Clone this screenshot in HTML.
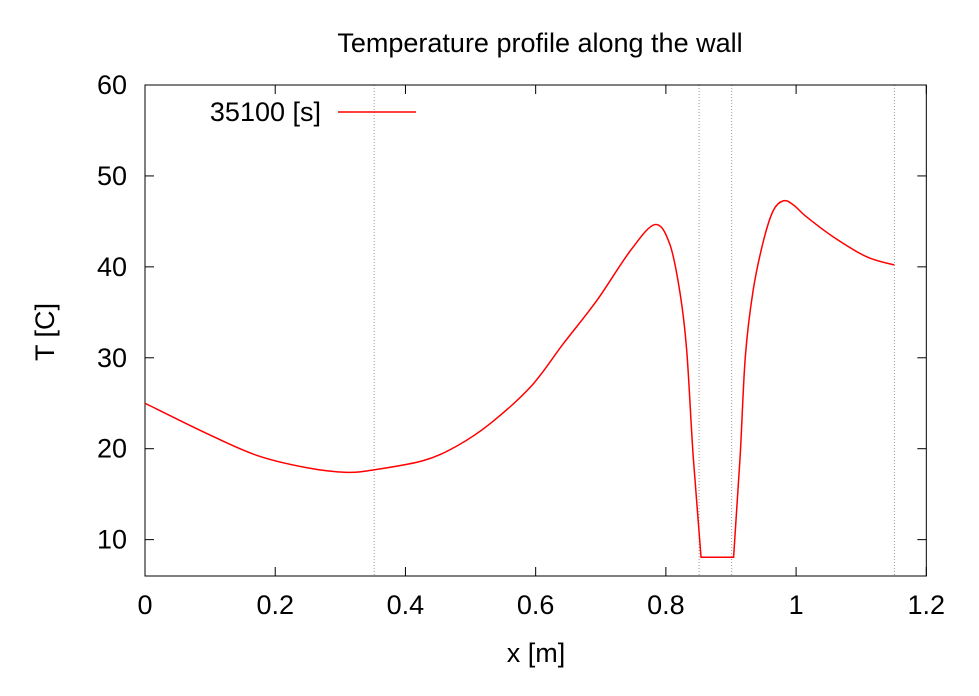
<!DOCTYPE html>
<html><head><meta charset="utf-8"><style>
body{margin:0;background:#fff}
svg{display:block;font-family:"Liberation Sans",sans-serif}
</style></head><body>
<svg id="chart" width="979" height="696">
<text x="540" y="52" font-size="27" text-anchor="middle">Temperature profile along the wall</text>
<text x="536" y="662" font-size="27" text-anchor="middle">x [m]</text>
<text transform="translate(54,332) rotate(-90)" font-size="27" text-anchor="middle">T [C]</text>
<g id="grid"></g><g id="axes"></g><g id="series"></g>
<text x="321" y="121" font-size="27" text-anchor="end">35100 [s]</text>
<line x1="338" y1="112" x2="416" y2="112" stroke="#f00" stroke-width="1.5"/>
</svg>
<script>
const xTicks=[0,0.2,0.4,0.6,0.8,1,1.2];
const xTickLabels=["0","0.2","0.4","0.6","0.8","1","1.2"];
const yTicks=[10,20,30,40,50,60];
const yTickLabels=["10","20","30","40","50","60"];
const boundaries=[0.352,0.851,0.901,1.151];
const xs=[0,0.0955,0.172,0.249,0.31,0.354,0.428,0.479,0.53,0.5929,0.6426,0.694,0.7457,0.7833,0.806,0.8218,0.832,0.842,0.854,0.904,0.914,0.922,0.934,0.95,0.965,0.9806,0.996,1.016,1.057,1.1085,1.151];
const temps=[25,21.65,19.26,17.9,17.4,17.7,18.7,20.3,22.75,26.85,31.56,36.3,41.8,44.65,42.5,37.1,30.8,19.1,8.06,8.06,19.1,30.1,37.4,42.9,46.2,47.27,46.8,45.5,43.3,41.1,40.2];
const X0=145,XS=651.1,YT=85,YB=576,YMIN=6,YMAX=60;
const sx=v=>X0+v*XS, sy=v=>YB-(v-YMIN)/(YMAX-YMIN)*(YB-YT);
const NS="http://www.w3.org/2000/svg";
function mk(t,a,p){const e=document.createElementNS(NS,t);for(const k in a)e.setAttribute(k,a[k]);p.appendChild(e);return e;}
const g=document.getElementById('grid'),ax=document.getElementById('axes'),se=document.getElementById('series');
boundaries.forEach(b=>{const l=mk('line',{x1:sx(b),x2:sx(b),y1:YT,y2:YB,stroke:'#999','stroke-width':1,'stroke-dasharray':'1,2'},g);

});
const fr=mk('rect',{x:X0,y:YT,width:sx(1.2)-X0,height:YB-YT,fill:'none',stroke:'#000','stroke-width':1},ax);


xTicks.forEach((v,i)=>{const x=sx(v);
mk('line',{x1:x,x2:x,y1:YB,y2:YB-9,stroke:'#000'},ax);mk('line',{x1:x,x2:x,y1:YT,y2:YT+9,stroke:'#000'},ax);
const t=mk('text',{x:x,y:614,'font-size':27,'text-anchor':'middle'},ax);t.textContent=xTickLabels[i];

});
yTicks.forEach((v,i)=>{const y=sy(v);
mk('line',{x1:X0,x2:X0+9,y1:y,y2:y,stroke:'#000'},ax);mk('line',{x1:sx(1.2),x2:sx(1.2)-9,y1:y,y2:y,stroke:'#000'},ax);
const t=mk('text',{x:127,y:y+9,'font-size':27,'text-anchor':'end'},ax);t.textContent=yTickLabels[i];

});
const pts=xs.map((x,i)=>[sx(x),sy(temps[i])]);
let d='M'+pts[0][0]+','+pts[0][1];
for(let i=0;i<pts.length-1;i++){const p0=pts[Math.max(0,i-1)],p1=pts[i],p2=pts[i+1],p3=pts[Math.min(pts.length-1,i+2)];
if(temps[i]===temps[i+1]||(i>0&&temps[i-1]===temps[i])||(i+2<temps.length&&temps[i+1]===temps[i+2])){d+=' L'+p2[0]+','+p2[1];continue;}
const c1=[p1[0]+(p2[0]-p0[0])/6,p1[1]+(p2[1]-p0[1])/6],c2=[p2[0]-(p3[0]-p1[0])/6,p2[1]-(p3[1]-p1[1])/6];
d+=' C'+c1+' '+c2+' '+p2;}
const path=mk('path',{d:d,fill:'none',stroke:'#f00','stroke-width':1.5},se);


</script>
</body></html>
